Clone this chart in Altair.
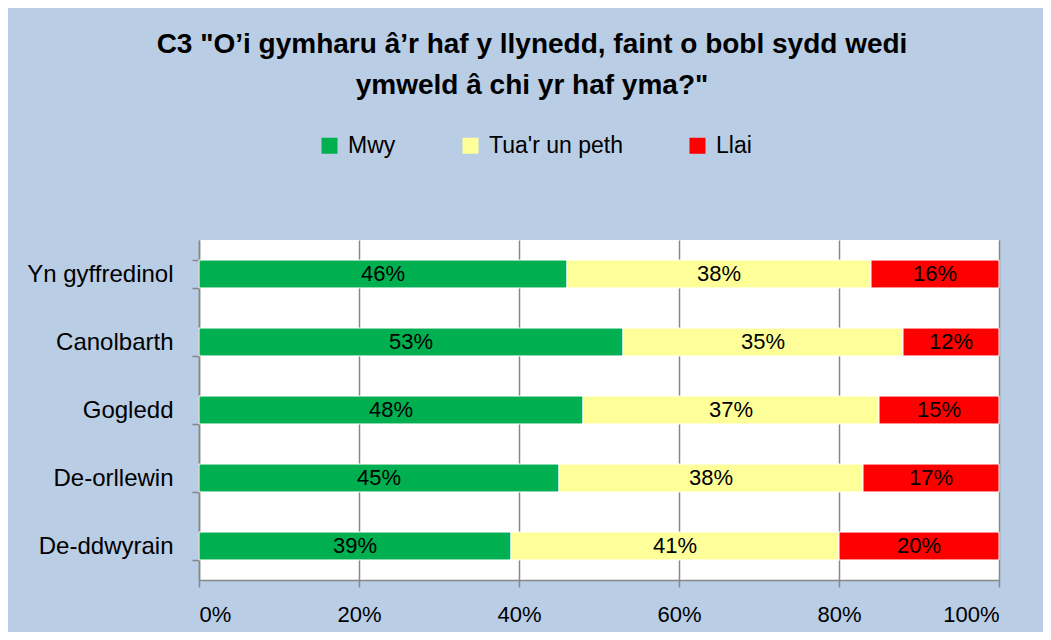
import altair as alt
import pandas as pd

regions = ["Yn gyffredinol", "Canolbarth", "Gogledd", "De-orllewin", "De-ddwyrain"]
responses = ["Mwy", "Tua'r un peth", "Llai"]
mwy = [46, 53, 48, 45, 39]
tua = [38, 35, 37, 38, 41]
llai = [16, 12, 15, 17, 20]
colors = ["#00B050", "#FFFF99", "#FF0000"]
x_ticks = [0, 20, 40, 60, 80, 100]

FONT = "Liberation Sans"

rows = []
for i, r in enumerate(regions):
    for j, (resp, vals) in enumerate(zip(responses, [mwy, tua, llai])):
        rows.append({"region": r, "response": resp, "order": j, "value": vals[i]})
df = pd.DataFrame(rows)

base = alt.Chart(df).transform_stack(
    stack="value", groupby=["region"], as_=["x0", "x1"],
    sort=[alt.SortField("order", order="ascending")]
).transform_calculate(
    mid="(datum.x0 + datum.x1) / 2", label="datum.value + '%'"
)

y_enc = alt.Y(
    "region:N", sort=regions, title=None,
    scale=alt.Scale(paddingInner=0.59, paddingOuter=0.295),
    axis=alt.Axis(
        tickBand="extent", tickSize=7, tickColor="#868686", domainColor="#868686",
        domainWidth=1.5, tickWidth=1.5,
        labelFont=FONT, labelFontSize=24, labelColor="black", labelPadding=19,
        labelLimit=300,
    ),
)
x_enc = alt.X(
    "x0:Q", title=None,
    scale=alt.Scale(domain=[0, 100], nice=False),
    axis=alt.Axis(
        values=x_ticks, labelExpr="datum.value + '%'",
        tickSize=7, tickColor="#868686", domainColor="#868686", domainWidth=1.5, tickWidth=1.5,
        grid=True, gridColor="#888888", gridWidth=1.5,
        labelFont=FONT, labelFontSize=22, labelColor="black", labelPadding=17,
    ),
)

bars = base.mark_bar(stroke="white", strokeWidth=1).encode(
    y=y_enc,
    x=x_enc,
    x2="x1:Q",
    color=alt.Color(
        "response:N",
        scale=alt.Scale(domain=responses, range=colors),
        legend=alt.Legend(
            title=None, orient="none", direction="horizontal",
            legendX=119, legendY=-106, padding=0,
            symbolType="square", symbolSize=256, symbolStrokeWidth=0,
            labelFont=FONT, labelFontSize=23, labelColor="black", labelOffset=7,
            columnPadding=63, labelLimit=300,
        ),
    ),
)

texts = base.mark_text(font=FONT, fontSize=22, color="black").encode(
    y=alt.Y("region:N", sort=regions),
    x=alt.X("mid:Q"),
    text="label:N",
)

chart = alt.layer(bars, texts).properties(
    width=800,
    height=340,
    autosize=alt.AutoSizeParams(type="none"),
    padding={"left": 191, "top": 232, "right": 44, "bottom": 52},
    background="#B9CDE5",
    title=alt.Title(
        text=["C3 \"O’i gymharu â’r haf y llynedd, faint o bobl sydd wedi",
              "ymweld â chi yr haf yma?\""],
        font=FONT, fontSize=28, fontWeight="bold", color="black",
        anchor="middle", dx=-67, offset=34, lineHeight=41,
    ),
).configure_view(stroke=None, fill="white")

chart.save("out.html", embed_options={"renderer": "svg", "actions": False})
